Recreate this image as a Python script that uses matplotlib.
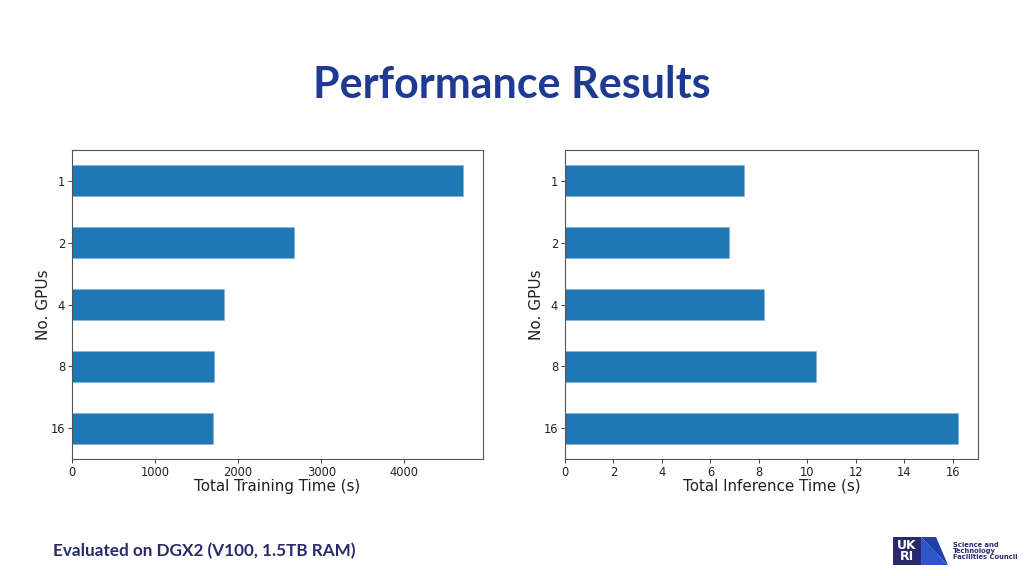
import matplotlib
matplotlib.use("Agg")
import matplotlib.pyplot as plt
from matplotlib.patches import Rectangle, Polygon

gpus = ["1", "2", "4", "8", "16"]
training_time = [4711, 2675, 1831, 1711, 1695]
inference_time = [7.37, 6.76, 8.21, 10.37, 16.22]

train_ticks = [0, 1000, 2000, 3000, 4000]
infer_ticks = [0, 2, 4, 6, 8, 10, 12, 14, 16]

bar_color = "#1f77b4"
W, H = 1024, 576
fig = plt.figure(figsize=(W / 100, H / 100), dpi=100)
fig.patch.set_facecolor("white")

def px_axes(x0, y0, x1, y1):
    return fig.add_axes([x0 / W, 1 - y1 / H, (x1 - x0) / W, (y1 - y0) / H])

def draw(ax, values, ticks, xlabel):
    pos = list(range(len(gpus)))
    ax.barh(pos, values, height=0.5, color=bar_color, edgecolor="#7fb3e0", linewidth=0.4)
    ax.set_ylim(len(gpus) - 0.5, -0.5)
    ax.set_xlim(0, max(values) * 1.05)
    ax.set_yticks(pos)
    ax.set_yticklabels(gpus)
    ax.set_xticks(ticks)
    ax.set_xticklabels([str(t) for t in ticks])
    ax.tick_params(labelsize=8.3, colors="#222222", length=3, width=0.6, pad=2)
    ax.set_xlabel(xlabel, fontsize=10.9, color="#222222", labelpad=0)
    ax.set_ylabel("No. GPUs", fontsize=11, color="#222222", labelpad=0)
    for s in ax.spines.values():
        s.set_color("#555555")
        s.set_linewidth(0.8)

ax1 = px_axes(72, 150, 483, 459)
draw(ax1, training_time, train_ticks, "Total Training Time (s)")
ax2 = px_axes(565, 150, 978, 459)
draw(ax2, inference_time, infer_ticks, "Total Inference Time (s)")

fig.text(512 / W, 1 - 85 / H, "Performance Results", ha="center", va="center",
         fontsize=31, fontweight="bold", family="Lato", color="#1F3A93")
fig.text(53 / W, 1 - 551 / H, "Evaluated on DGX2 (V100, 1.5TB RAM)", ha="left", va="center",
         fontsize=12.3, fontweight="bold", family="Lato", color="#2B2A6B")

# logo decoration
fig.patches.append(Rectangle((893 / W, 1 - 565 / H), 28 / W, 28 / H, transform=fig.transFigure,
                             facecolor="#2B2A6B", edgecolor="none"))
fig.patches.append(Polygon([(921 / W, 1 - 537 / H), (948 / W, 1 - 565 / H), (921 / W, 1 - 565 / H)],
                           closed=True, transform=fig.transFigure, facecolor="#2E56C8", edgecolor="none"))
fig.patches.append(Polygon([(921 / W, 1 - 537 / H), (936 / W, 1 - 537 / H), (948 / W, 1 - 565 / H)],
                           closed=True, transform=fig.transFigure, facecolor="#1E3FA8", edgecolor="none"))
fig.text(907 / W, 1 - 551 / H, "UK\nRI", ha="center", va="center", fontsize=9,
         fontweight="bold", color="white", linespacing=0.8, family="DejaVu Sans")
fig.text(953 / W, 1 - 551 / H, "Science and\nTechnology\nFacilities Council", ha="left", va="center",
         fontsize=4.9, fontweight="bold", color="#2B2A6B", linespacing=1.05, family="DejaVu Sans")

fig.savefig("out.png", dpi=100)
